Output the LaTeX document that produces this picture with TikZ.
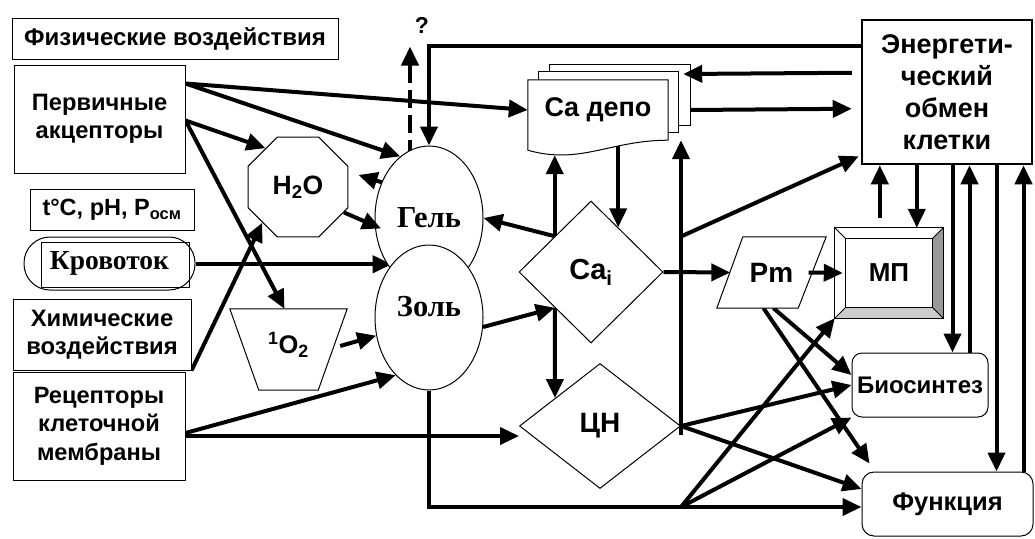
\documentclass[tikz,border=0pt]{standalone}
\usepackage{fontspec}
\setmainfont{Liberation Sans}
\newfontfamily\tnr{Liberation Serif}
\usetikzlibrary{arrows.meta,shapes.geometric,calc}
\pgfdeclarelayer{bg}
\pgfdeclarelayer{shp}
\pgfsetlayers{bg,shp,main}
\newcommand\fsz[2]{\fontsize{#1}{#2}\selectfont}
\begin{document}
\begin{tikzpicture}[x=1pt,y=-1pt,
  box/.style={draw, line width=1pt, fill=white, inner sep=0pt, align=center},
  sans/.style={font=\bfseries\fsz{#1}{28.5}},
  serifbold/.style={font=\tnr\bfseries\fsz{#1}{40}},
  conn/.style={line width=4pt, -{Triangle[length=19pt,width=17pt]}},
  plain/.style={line width=4pt},
  thin/.style={line width=1pt},
]
\useasboundingbox (0,0) rectangle (1035,538);

% ---------- nodes ----------
\node[box, sans=24, minimum width=326pt, minimum height=41pt] (fiz) at (175,38.5) {Физические воздействия};
\node[box, sans=23.7, minimum width=171pt, minimum height=108pt] (prim) at (99.5,119) {Первичные\\акцепторы};
\node[box, sans=23.5, minimum width=164pt, minimum height=41pt] (tc) at (112,209.5) {t°C, pH, P\textsubscript{осм}};
\node[box, rounded corners=26pt, minimum width=171pt, minimum height=53pt, serifbold=27.5] (krov) at (109.5,263.5) {Кровоток};
\draw[thin] ($(krov.south west)+(18,-3)$) rectangle ($(krov.north east)+(-6,6)$);
\node[box, sans=23.8, minimum width=178pt, minimum height=71pt] (him) at (102,334.5) {Химические\\воздействия};
\node[box, sans=23.6, minimum width=172pt, minimum height=108pt] (rec) at (99,426) {Рецепторы\\клеточной\\мембраны};

\node[box, regular polygon, regular polygon sides=8, minimum size=108.2pt, sans=26.5] (h2o) at (298,187) {H\textsubscript{2}O};
\node[inner sep=0pt, minimum width=117pt, minimum height=81pt, sans=25.5, text depth=14pt] (o2) at (288.5,349.5) {\textsuperscript{1}O\textsubscript{2}};

\node[box, ellipse, minimum width=108pt, minimum height=144pt, serifbold=30.5] (gel) at (429,218) {Гель};
\node[box, ellipse, minimum width=108pt, minimum height=145pt, serifbold=30.5, text depth=22pt] (zol) at (429,317.5) {Золь};
\node[sans=23, inner sep=0pt] (qm) at (422,25) {?};

\node[inner sep=0pt, minimum width=140pt, minimum height=60pt, sans=27] (depo) at (598,110) {Ca депо};
\node[box, diamond, minimum width=144pt, minimum height=142pt, sans=29] (cai) at (591,272) {Ca\textsubscript{i}};
\node[box, diamond, minimum width=161pt, minimum height=125pt, sans=28] (cn) at (600,426) {ЦН};
\node[inner sep=0pt, minimum width=82pt, minimum height=71pt, sans=28] (pm) at (771.5,272.5) {Pm};
\node[inner sep=0pt, minimum width=108pt, minimum height=90pt, sans=26] (mp) at (889,273) {МП};
\node[draw, line width=2.5pt, fill=white, inner sep=0pt, align=center, minimum width=170pt, minimum height=144pt, font=\bfseries\fsz{27}{32}] (en) at (947,92) {Энергети-\\ческий\\обмен\\клетки};
\node[box, rounded corners=10pt, minimum width=136pt, minimum height=64pt, sans=24] (bio) at (920,385) {Биосинтез};
\node[box, rounded corners=12pt, minimum width=171pt, minimum height=64pt, sans=25.5] (fun) at (947.5,504) {Функция};

% ---------- drawn shapes ----------
\begin{pgfonlayer}{shp}
  \draw[thin, fill=white] ($(depo.north west)+(22,-15)$) rectangle ($(depo.south east)+(22,-15)$);
  \draw[thin, fill=white] ($(depo.north west)+(11,-8)$) rectangle ($(depo.south east)+(10,-8)$);
  \draw[thin, fill=white] (depo.north west) -- (depo.north east) -- (depo.south east)
     .. controls ($(depo.south east)+(-58,0)$) and ($(depo.south west)+(52,25)$) .. ($(depo.south west)+(0,10)$) -- cycle;
  \draw[thin, fill=white] ($(pm.north west)+(12.5,0)$) -- ($(pm.north east)+(13.5,0)$) -- ($(pm.south east)+(-14.5,0)$) -- ($(pm.south west)+(-13.5,0)$) -- cycle;
  \draw[thin, fill=white] (o2.north west) -- (o2.north east) -- ($(o2.south east)+(-29,0)$) -- ($(o2.south west)+(29,0)$) -- cycle;
  \fill[white] (mp.north west) rectangle (mp.south east);
  \fill[gray!80] (mp.north east) -- (mp.south east) -- ($(mp.south east)+(-11,-11)$) -- ($(mp.north east)+(-11,11)$) -- cycle;
  \fill[gray!40] (mp.south west) -- (mp.south east) -- ($(mp.south east)+(-11,-11)$) -- ($(mp.south west)+(11,-11)$) -- cycle;
  \draw[thin] (mp.north west) rectangle (mp.south east);
  \draw[thin] ($(mp.north west)+(11,11)$) rectangle ($(mp.south east)+(-11,-11)$);
  \draw[thin] (mp.north west) -- ++(11,11) (mp.north east) -- ++(-11,11) (mp.south west) -- ++(11,-11) (mp.south east) -- ++(-11,-11);
\end{pgfonlayer}

% ---------- connectors ----------
\begin{pgfonlayer}{bg}
  \coordinate (pA) at ($(prim.north east)+(0,19)$);
  \coordinate (pB) at ($(prim.north east)+(0,56)$);
  \draw[conn] (pA) -- (depo.west);
  \draw[conn] (pA) -- (gel.115);
  \draw[conn] (pB) -- (h2o.130);
  \draw[conn] (pB) -- ($(o2.north)+(-4,0)$);
  \draw[conn] (him.south east) -- (h2o.225);
  \draw[conn] (krov.east |- zol.125) -- (zol.125);
  \draw[conn] (gel.143) -- ($(h2o.east)+(10,-12)$);
  \draw[conn] ($(o2.east)+(-7,-3.5)$) -- (zol.199);
  \draw[conn] ($(rec.east)+(0,7)$) -- (zol.240);
  \draw[conn] ($(rec.east)+(0,10)$) -- ($(cn.west)+(0,10)$);

  \coordinate (J0) at (cn.east |- fun.west);
  \coordinate (J) at ($(J0)+(0,3)$);
  \draw[plain] (zol.south) |- (J);
  \draw[conn] (J) -- (J -| fun.west);
  \draw[conn] (J) -- (bio.south west);
  \draw[conn] (J) -- (mp.south west);

  \draw[conn] (cai.east) -- (pm.west);
  \draw[conn] ($(pm.south)+(2,0)$) -- ($(bio.west)+(0,-10)$);
  \draw[conn] ($(pm.south)+(-8,0)$) -- ($(fun.north west)+(8,-8)$);
  \draw[conn] (cn.east) -- (bio.west);
  \draw[conn] (cn.east) -- ($(fun.west)+(0,-15)$);
  \draw[conn] ($(cn.east)+(0,9)$) -- (cn.east |- depo.south);
  \coordinate (vB0) at (cn.east |- cai.north);
  \coordinate (vB) at ($(vB0)+(0,36)$);
  \draw[conn] (vB) -- ($(en.south west)+(-2,-9)$);

  \coordinate (caiNW) at ($(cai.north)!0.5!(cai.west)$);
  \coordinate (caiSW) at ($(cai.south)!0.5!(cai.west)$);
  \coordinate (caiNE) at ($(cai.north)!0.375!(cai.east)$);
  \coordinate (dA) at (caiNW |- depo.south);
  \draw[conn] (caiNW) -- (gel.east);
  \draw[conn] (caiNW) -- ($(dA)+(0,15)$);
  \draw[conn] (caiSW) -- ($(cn.north)!0.556!(cn.west)$);
  \draw[conn] (zol.-10) -- (caiSW);
  \draw[conn] (caiNE |- depo.south) -- (caiNE);
  \draw[conn] ($(depo.east)+(22,0)$) -- ($(en.north west)+(-9,90)$);
  \draw[conn] ($(en.north west)+(0,27)$) -| (gel.north);
  \draw[conn, dash pattern=on 18pt off 7pt] ($(gel.north)+(-19,12)$) -- ($(gel.north)+(-19,-99)$);

  \coordinate (a1) at ($(mp.north west)+(45,-10)$);
  \coordinate (a2) at ($(mp.north west)+(82,0)$);
  \coordinate (a3) at ($(bio.north west)+(101,0)$);
  \coordinate (a4) at ($(bio.north west)+(118,0)$);
  \coordinate (a5) at ($(fun.north west)+(135,0)$);
  \coordinate (a6) at ($(fun.north west)+(162,0)$);
  \draw[conn] (a1) -- (a1 |- en.south);
  \draw[conn] (a2 |- en.south) -- (a2);
  \draw[conn] (a3 |- en.south) -- (a3);
  \draw[conn] (a4) -- (a4 |- en.south);
  \draw[conn] (a5 |- en.south) -- (a5);
  \draw[conn] (a6) -- (a6 |- en.south);
\end{pgfonlayer}

% connectors drawn over shapes
\draw[conn] ($(en.north west)+(-9,54)$) -- ($(depo.east)+(15,-36)$);
\draw[conn] ($(pm.east)+(-4,0)$) -- ($(mp.west)+(8,0)$);
\draw[conn] (h2o.-29) -- ($(gel.191)+(6,0)$);
\end{tikzpicture}
\end{document}
